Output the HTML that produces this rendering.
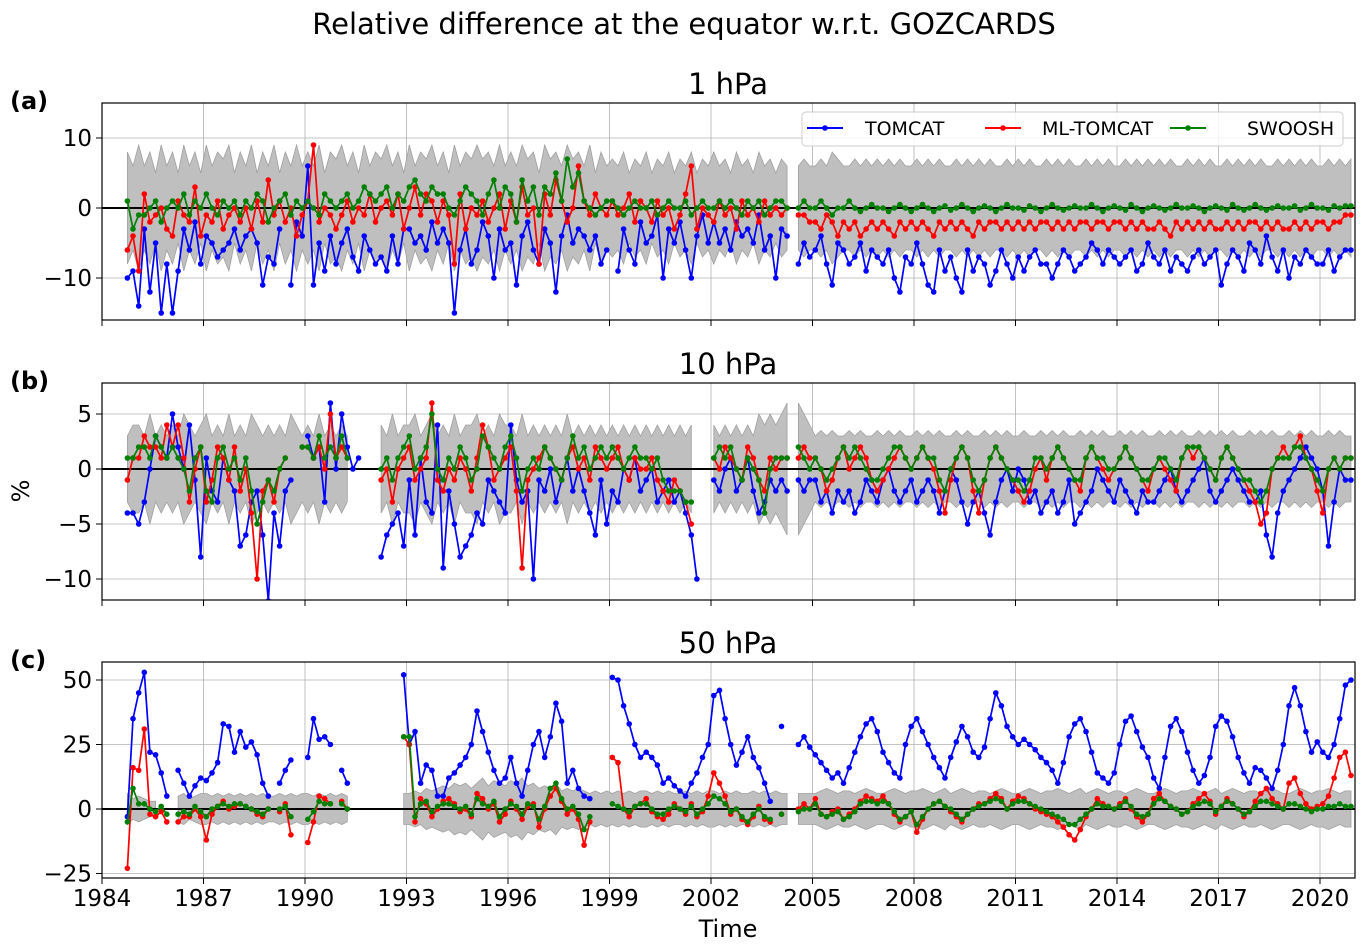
<!DOCTYPE html>
<html><head><meta charset="utf-8"><style>
html,body{margin:0;padding:0;background:#fff;}
svg{display:block;font-family:"DejaVu Sans","Liberation Sans",sans-serif;}
</style></head><body>
<svg id="chart" width="1368" height="949" viewBox="0 0 1368 949">
<text x="684" y="34" font-size="29" text-anchor="middle">Relative difference at the equator w.r.t. GOZCARDS</text>
</svg>
<script>
// time axis: t = 1984.75 + i/6
const t0 = 1984.75;
const xTicks = [1984,1987,1990,1993,1996,1999,2002,2005,2008,2011,2014,2017,2020];

const a_tomcat = [-10,-9, -14,-3,-12,-5,-15,-8, -15,-9,-3,-6,-2,-8, -4,-5,-7,-6,-5,-3, -6,-4,-3,-5,-11,-7, -8,-3,null,-11,-2,-4, 6,-11,-5,-9,-4,-8, -5,-3,-7,-9,-4,-6, -8,-7,-9,-4,-8,-3, -3,-5,-4,-6,-2,-5, -3,-5,-15,-6,-3,-8, -6,-2,-4,-10,-3,-6, -5,-11,-4,-2,-6,-8, -3,-5,-12,-4,-1,-5, -3,-4,-6,-4,-8,-6, null,-9,-3,-6,-8,-2, -5,-4,-1,-10,-3,-5, -2,-6,-10,-4,-1,-5, -2,-5,-3,-6,-2,-4, -3,-5,-1,-6,-4,-10, -3,-4,null,-8,-5,-7, -6,-4,-8,-11,-5,-6, -8,-7,-5,-9,-6,-7, -8,-6,-10,-12,-7,-8, -5,-8,-11,-12,-6,-9, -7,-10,-12,-6,-9,-7, -8,-11,-9,-6,-8,-10, -7,-9,-7,-6,-8,-8, -10,-8,-6,-7,-9,-8, -7,-5,-6,-8,-6,-7, -8,-7,-6,-9,-8,-5, -7,-8,-6,-9,-7,-8, -9,-7,-6,-8,-7,-6, -11,-8,-6,-7,-9,-5, -6,-8,-4,-7,-9,-6, -10,-7,-8,-6,-7,-8, -8,-6,-9,-7,-6,-6];
const a_ml = [-6,-4, -9,2,-2,-1,0,-3, -4,1,-1,-2,3,-4, -1,-2,1,-3,-1,0, -2,0,-3,1,-2,4, -1,1,-2,0,-4,-1, 1,9,-2,0,-1,-3, -1,1,-2,0,-1,2, -2,0,1,-1,2,-3, 0,3,-1,2,1,-2, 1,-1,-8,2,-3,0, -1,1,-2,0,2,-3, 1,-2,3,-1,0,-8, 2,-1,4,1,-2,0, 6,1,-1,2,0,-1, 1,-1,0,2,-2,1, 0,-2,1,-1,0,-3, -1,2,6,-3,0,-1, -2,1,-1,0,-3,1, -1,0,-2,1,-1,0, -1,0,null,-1,-1,-2, -2,-3,-1,-2,-4,-2, -3,-2,-4,-3,-2,-3, -2,-3,-4,-2,-3,-2, -3,-2,-3,-4,-2,-3, -2,-3,-2,-3,-4,-2, -3,-2,-2,-3,-2,-3, -2,-3,-2,-3,-2,-2, -3,-2,-3,-2,-3,-2, -2,-3,-2,-2,-3,-2, -2,-3,-2,-3,-2,-3, -3,-2,-3,-4,-2,-3, -2,-3,-2,-3,-2,-3, -3,-2,-3,-2,-3,-2, -2,-3,-2,-3,-2,-3, -3,-2,-3,-2,-3,-2, -2,-3,-2,-2,-1,-1];
const a_swoosh = [1,-3, -1,-1,0,1,-2,0, 1,0,2,-1,1,0, 2,0,-1,1,0,1, -1,1,0,2,1,-2, 0,1,2,-1,1,0, 1,0,-1,2,1,0, 1,2,0,1,3,2, 1,2,3,0,2,1, 3,4,2,1,3,2, 2,0,-1,1,3,2, 1,-1,2,4,0,3, 2,-2,4,1,3,-1, 3,2,5,1,7,3, 5,1,0,-1,0,1, 1,0,-1,0,1,0, 0,1,-1,0,1,0, 0,1,-1,0,1,0, 0,1,0,1,0,-1, 1,0,1,-1,0,1, 1,0,null,0,1,0, 0,1,0,-1,0,0, 1,0,-0.5,0,0.5,0, 0,-0.5,0,0.5,0,-0.5, 0,0.5,0,-0.5,0,0.3, -0.3,0,0.5,0,-0.5,0, 0.3,0,-0.5,0,0.5,0, 0,-0.3,0.3,0,-0.5,0, 0.5,0,-0.3,0,0.3,0, 0,0.5,0,-0.5,0,0.3, 0,-0.3,0.5,0,-0.5,0, 0.3,0,-0.3,0,0.5,0, 0,0.3,0,-0.5,0,0.3, 0,-0.3,0.5,0,-0.3,0, 0.5,0,-0.3,0,0.3,0, 0,0.3,-0.3,0,0.5,0, 0,-0.3,0.3,0,0.3,0.3];
const a_band = [8,6, 9,6,8,5,9,6, 8,5,9,6,8,5, 9,6,8,7,9,5, 8,6,9,5,8,6, 9,5,8,6,9,6, 8,6,9,5,8,7, 9,6,8,5,9,6, 8,7,9,6,8,5, 9,6,8,7,9,6, 8,5,9,6,8,7, 9,7,8,6,9,6, 8,6,9,7,8,5, 9,7,8,6,9,7, 8,6,9,5,8,6, 7,6,8,5,7,6, 8,5,7,6,8,5, 7,6,8,5,7,6, 8,6,7,5,8,6, 7,5,8,6,7,5, 7,6,null,6,7,6, 6,7,6,8,7,6, 6,7,6,7,6,7, 6,7,6,7,6,6, 7,6,7,6,7,6, 6,7,6,7,6,7, 6,7,6,6,7,6, 7,6,7,6,6,7, 6,7,6,7,6,6, 7,6,7,6,7,6, 6,7,6,7,6,7, 6,7,6,7,6,6, 7,6,7,6,7,6, 6,7,6,7,6,7, 6,7,6,6,7,6, 7,6,7,6,7,6, 6,7,6,7,6,7];

const b_tomcat = [-4,-4, -5,-3,0,3,2,1, 5,2,0,4,-1,-8, 1,-2,-3,1,-1,-2, -7,-6,-3,-2,-6,-12, -4,-7,-2,-1,null,null, 3,1,2,-3,6,0, 5,2,0,1,null,null, null,-8,-6,-5,-4,-7, -1,-6,1,-3,-4,4, -9,-2,-5,-8,-7,-6, -4,-5,-1,-2,-3,-4, 4,-1,-3,-2,-10,-1, -2,0,-3,-1,1,-2, 0,-2,-4,-6,-1,-5, -2,-3,0,-1,1,-2, -1,0,-3,-2,-1,-3, -2,-4,-6,-10,null,null, -1,-2,0,1,-2,-1, 1,-2,-4,-3,-1,-2, -1,-2,null,-1,-2,-1, -1,-3,-2,-4,-2,-3, -2,-4,-3,-1,-2,-3, -1,0,-2,-3,-2,-1, -3,-2,-1,-2,-4,-2, 0,-1,-3,-5,-3,-2, -4,-6,-3,-1,0,-2, 0,-1,-3,-2,-4,-3, -2,-4,-3,-1,-5,-4, -3,-2,0,-1,-2,-3, -1,-2,-3,-4,-2,-3, -3,-2,-1,0,-2,-3, -2,-1,0,1,-2,-3, -2,-1,0,-1,-2,-3, -3,-2,-6,-8,-4,-2, -1,0,1,2,1,0, -2,-7,-3,0,-1,-1];
const b_ml = [-1,1, 1,3,2,2,1,4, 2,4,1,-3,0,2, -3,-1,2,1,-1,2, -2,0,-4,-10,-2,-1, -3,0,1,null,null,2, 2,1,2,0,5,1, 2,1,null,null,null,null, null,-1,0,-3,0,1, 2,-1,0,1,6,-1, -2,0,-1,1,0,-2, 1,4,2,-1,0,1, 2,-2,-9,-1,0,1, 2,1,0,-1,1,2, 0,1,-1,2,1,0, 1,2,0,-1,1,0, 0,1,-1,-2,-3,-1, -2,-3,-5,null,null,null, 1,0,2,1,0,-1, 2,1,-1,-2,1,0, 1,1,null,1,2,1, 1,0,-2,-1,1,2, 0,1,2,1,-1,-2, -1,0,1,2,1,0, 1,2,1,0,-2,-4, -1,1,2,1,-2,-4, -1,1,2,1,0,-1, -2,-3,-2,0,1,-1, 1,2,1,0,-1,-2, 1,2,1,0,-1,0, 1,2,1,0,-1,-2, 0,1,0,-1,-2,1, 2,1,2,1,0,-1, 1,2,1,0,-1,-2, -3,-5,-4,0,1,2, 1,2,3,1,0,-2, -4,0,1,0,1,1];
const b_swoosh = [1,1, 2,2,1,3,2,1, 2,1,0,-2,1,2, -2,-3,1,2,0,1, -1,1,-2,-5,-3,-1, -2,0,1,null,null,2, 2,1,3,1,2,1, 3,1,null,null,null,null, null,0,1,-1,1,2, 3,0,1,2,5,0, -1,1,0,2,1,-1, 0,3,2,1,0,2, 3,1,-2,0,1,0, 2,1,0,-1,1,3, 1,2,0,1,2,1, 2,1,0,1,2,1, 1,0,1,-1,-2,-2, -2,-3,-3,null,null,null, 1,2,1,2,0,-1, 1,0,-1,-4,0,1, 1,1,null,2,1,0, 1,0,-1,0,1,2, 1,2,1,0,-1,-1, 0,1,2,2,1,0, 1,2,1,1,-1,-2, 0,1,2,1,-1,-2, -1,1,2,1,0,-1, -1,-2,-1,1,1,0, 1,2,1,0,-1,-1, 1,2,1,1,0,0, 1,2,1,0,-1,-1, 0,1,1,0,-1,1, 2,2,2,1,0,-1, 1,2,1,0,-1,-1, -2,-3,-2,0,1,1, 1,2,2,1,0,-1, -2,0,1,0,1,1];
const b_band = [3,4, 4,3,5,3,4,3, 4,3,5,4,3,4, 5,3,4,3,5,3, 4,3,5,4,3,4, 3,4,3,5,4,3, 4,3,5,3,4,3, 4,3,null,null,null,null, null,4,3,5,3,4, 4,5,3,4,5,3, 4,3,5,3,4,4, 5,3,4,3,5,4, 4,3,5,3,4,3, 4,3,4,3,5,3, 4,3,4,3,4,3, 4,3,4,3,4,3, 4,3,4,3,4,3, 4,3,4,null,null,null, 4,3,4,3,4,3, 4,3,5,4,5,4, 5,6,null,6,5,4, 3,3.5,3,3.5,3,3, 3.5,3,3.5,3,3,3.5, 3,3.5,3,3.5,3,3, 3.5,3,3.5,3,3.5,3, 3,3.5,3,3.5,3,3, 3.5,3,3.5,3,3.5,3, 3,3.5,3,3,3.5,3, 3.5,3,3.5,3,3,3.5, 3,3.5,3,3.5,3,3, 3.5,3,3.5,3,3.5,3, 3,3.5,3,3.5,3,3.5, 3,3,3.5,3,3.5,3, 3.5,3,3.5,3,3,3.5, 3,3.5,3,3.5,3,3, 3.5,3,3.5,3,3.5,3, 3,3.5,3,3.5,3,3];

const c_tomcat = [-3,35, 45,53,22,21,14,5, null,15,10,5,9,12, 11,14,18,33,32,22, 30,24,26,21,10,5, null,10,15,19,null,null, 20,35,27,28,25,null, 15,10,null,null,null,null, null,null,null,null,null,52, 25,30,10,17,15,5, 5,12,14,17,20,25, 38,30,22,15,10,12, 20,10,5,15,25,30, 20,28,41,34,10,15, 8,5,4,null,null,null, 51,50,40,33,25,20, 22,20,17,10,12,9, 7,5,10,14,20,25, 44,46,35,25,17,22, 28,20,16,10,3,null, 32,null,null,25,28,24, 21,18,15,12,14,10, 16,22,28,33,35,30, 22,18,14,12,25,32, 35,30,25,20,16,12, 20,26,32,28,22,20, 24,35,45,40,32,28, 25,27,25,23,20,18, 15,10,18,28,33,35, 30,22,14,12,10,14, 25,34,36,30,24,20, 12,8,20,32,35,30, 22,15,10,13,20,32, 36,34,28,20,14,10, 16,15,12,8,15,25, 40,47,40,30,22,26, 22,20,25,35,48,50];
const c_ml = [-23,16, 15,31,-2,-3,-1,-5, null,-5,-3,-3,0,-3, -12,-2,1,3,0,1, 2,1,0,-2,-3,0, null,-1,2,-10,null,null, -13,-5,5,4,2,null, 3,0,null,null,null,null, null,null,null,null,null,28, 25,-5,4,2,-3,0, 3,4,2,-1,0,-3, 6,4,0,2,-5,-2, 3,0,-4,1,2,-7, 0,5,8,3,-2,0, -4,-14,-5,null,null,null, 20,18,0,-3,1,2, 4,-1,-3,-4,-2,2, 0,-2,2,-3,-1,5, 14,10,5,-2,0,-4, -6,-3,1,-4,-5,null, -2,null,null,0,2,0, 4,-2,-3,-1,0,-4, -2,0,3,5,4,3, 5,2,-2,-5,-3,-1, -9,-4,0,2,3,1, -1,-3,-5,-2,0,2, 2,4,6,4,0,3, 5,4,2,0,-1,-2, -3,-5,-7,-10,-12,-8, -3,0,4,2,1,0, 2,4,0,-3,-5,-2, 4,6,3,1,0,-2, -1,2,4,6,3,-2, 1,4,2,0,-3,-1, 3,6,8,4,2,0, 10,12,6,2,0,1, 2,5,12,20,22,13];
const c_swoosh = [-5,8, 2,2,0,-1,1,-2, null,-2,-1,-2,1,-1, -3,0,1,2,1,2, 2,1,0,-1,-2,0, null,0,1,-3,null,null, -4,-1,3,2,2,null, 2,0,null,null,null,null, null,null,null,null,null,28, 28,-3,2,3,-1,1, 2,2,1,0,1,-2, 4,2,1,3,-3,0, 2,1,-2,2,1,-4, 1,8,10,4,0,1, -2,-8,-3,null,null,null, 2,1,0,-1,1,2, 2,0,-2,-2,0,1, 0,-1,1,-2,0,2, 5,4,2,-1,0,-3, -5,-2,0,-3,-4,null, -2,null,null,-1,0,0, 2,-2,-3,-2,-1,-4, -3,-1,2,3,3,2, 3,2,-1,-4,-3,-1, -6,-3,0,2,3,1, 0,-2,-4,-2,0,1, 2,3,4,3,0,2, 3,3,2,1,0,-1, -2,-3,-4,-6,-6,-4, -2,0,2,1,1,0, 1,3,1,-2,-3,-2, 2,4,3,1,0,-2, -1,1,2,3,2,-1, 1,3,2,0,-2,-1, 1,3,3,2,1,0, 2,2,1,0,-1,0, 0,1,1,2,1,1];
const c_band = [6,4, 5,4,3,3,null,null, null,5,6,4,5,6, 6,5,6,5,6,5, 6,5,6,5,6,5, 5,6,5,6,5,6, 6,5,6,5,6,5, 6,5,null,null,null,null, null,null,null,null,null,6, 6,7,6,8,7,8, 9,8,10,9,10,8, 10,12,9,11,10,9, 11,10,12,9,10,8, 9,8,10,7,8,7, 8,7,6,7,6,7, 6,7,6,7,6,7, 7,6,7,6,7,6, 6,7,6,7,6,7, 7,6,7,6,7,6, 6,7,6,7,6,7, 6,6,null,6,6,6, 6,7,8,7,6,7, 7,6,7,8,7,6, 6,7,8,7,6,7, 7,8,7,6,7,8, 6,7,8,7,6,7, 7,6,7,8,7,6, 6,7,8,7,6,7, 7,8,7,6,7,8, 6,7,8,7,6,7, 7,6,7,8,7,6, 6,7,8,7,6,7, 7,8,7,6,7,8, 6,7,8,7,6,7, 7,6,7,8,7,6, 6,7,8,7,6,7, 7,8,7,6,7,7];

const yTicksA = [-10,0,10], yTicksB = [-10,-5,0,5], yTicksC = [-25,0,25,50];

const NS = "http://www.w3.org/2000/svg";
const svg = document.getElementById('chart');
const X0 = 102, X1 = 1355;
function xs(t){ return X0 + (t - 1984) * (1320 - 102) / 36; }
function tOf(i){ return t0 + i / 6; }
function mk(tag, attrs, parent){
  const e = document.createElementNS(NS, tag);
  for (const k in attrs) e.setAttribute(k, attrs[k]);
  (parent || svg).appendChild(e);
  return e;
}

const panels = [
  {id:'a', top:103, bot:320, zeroY:208, k:7, ticks:yTicksA, title:'1 hPa', s:[a_tomcat,a_ml,a_swoosh], band:a_band},
  {id:'b', top:383, bot:600, zeroY:469, k:11, ticks:yTicksB, title:'10 hPa', s:[b_tomcat,b_ml,b_swoosh], band:b_band},
  {id:'c', top:662, bot:878, zeroY:809, k:2.58, ticks:yTicksC, title:'50 hPa', s:[c_tomcat,c_ml,c_swoosh], band:c_band}
];
const colors = ['#0000ff','#ff0000','#008000'];
const sNames = ['tomcat','ml-tomcat','swoosh'];

panels.forEach(function(p){
  const ys = function(v){ return p.zeroY - p.k * v; };
  const g = mk('g', {});
  
  
  const cp = mk('clipPath', {id:'clip' + p.id}, g);
  mk('rect', {x:X0, y:p.top, width:X1 - X0, height:p.bot - p.top}, cp);

  xTicks.forEach(function(yr){
    const gl = mk('line', {x1:xs(yr), x2:xs(yr), y1:p.top, y2:p.bot, stroke:'#b0b0b0', 'stroke-width':0.8}, g);
    
    
    mk('line', {x1:xs(yr), x2:xs(yr), y1:p.bot, y2:p.bot + 6, stroke:'#000', 'stroke-width':1}, g);
  });
  p.ticks.forEach(function(v){
    const gl = mk('line', {x1:X0, x2:X1, y1:ys(v), y2:ys(v), stroke:'#b0b0b0', 'stroke-width':0.8}, g);
    
    
    mk('line', {x1:X0 - 6, x2:X0, y1:ys(v), y2:ys(v), stroke:'#000', 'stroke-width':1}, g);
    const tl = mk('text', {x:X0 - 10, y:ys(v) + 8, 'font-size':23, 'text-anchor':'end'}, g);
    tl.textContent = v < 0 ? '\u2212' + Math.abs(v) : String(v);
    
    
  });

  const inner = mk('g', {'clip-path':'url(#clip' + p.id + ')'}, g);
  let seg = [];
  const segs = [];
  p.band.forEach(function(w, i){
    if (w === null) { if (seg.length) segs.push(seg); seg = []; }
    else seg.push(i);
  });
  if (seg.length) segs.push(seg);
  segs.forEach(function(sg){
    let d = '';
    sg.forEach(function(i, j){ d += (j ? 'L' : 'M') + xs(tOf(i)).toFixed(1) + ',' + ys(p.band[i]).toFixed(1); });
    for (let j = sg.length - 1; j >= 0; j--) d += 'L' + xs(tOf(sg[j])).toFixed(1) + ',' + ys(-p.band[sg[j]]).toFixed(1);
    d += 'Z';
    const b = mk('path', {d:d, fill:'#bfbfbf', stroke:'#a0a0a0', 'stroke-width':0.8}, inner);
    
    
  });
  const z = mk('line', {x1:X0, x2:X1, y1:ys(0), y2:ys(0), stroke:'#000', 'stroke-width':2}, inner);
  
  

  p.s.forEach(function(arr, si){
    const sg = mk('g', {}, inner);
    
    
    let d = '', pen = false;
    arr.forEach(function(v, i){
      if (v === null) { pen = false; return; }
      d += (pen ? 'L' : 'M') + xs(tOf(i)).toFixed(1) + ',' + ys(v).toFixed(1);
      pen = true;
    });
    const ln = mk('path', {d:d, fill:'none', stroke:colors[si], 'stroke-width':1.7}, sg);
    
    
    arr.forEach(function(v, i){
      if (v === null) return;
      const c = mk('circle', {cx:xs(tOf(i)).toFixed(1), cy:ys(v).toFixed(1), r:2.8, fill:colors[si]}, sg);
      
      
    });
  });

  const fr = mk('rect', {x:X0, y:p.top, width:X1 - X0, height:p.bot - p.top, fill:'none', stroke:'#000', 'stroke-width':1.2}, g);
  
  
  const tt = mk('text', {x:728, y:p.top - 9, 'font-size':29, 'text-anchor':'middle'}, g);
  tt.textContent = p.title;
  
  
  const lb = mk('text', {x:10, y:p.top + 6, 'font-size':24, 'font-weight':'bold'}, g);
  lb.textContent = '(' + p.id + ')';
  
  
});

xTicks.forEach(function(yr){
  const tl = mk('text', {x:xs(yr), y:906, 'font-size':23, 'text-anchor':'middle'});
  tl.textContent = String(yr);
  
  
});
const xt = mk('text', {x:728, y:937, 'font-size':24, 'text-anchor':'middle'});
xt.textContent = 'Time';


const yt = mk('text', {x:0, y:0, 'font-size':24, 'text-anchor':'middle', transform:'translate(29,491) rotate(-90)'});
yt.textContent = '%';



const lg = mk('g', {});


mk('rect', {x:802, y:112, width:541, height:34, rx:4, fill:'#fff', 'fill-opacity':0.85, stroke:'#cccccc'}, lg);
const legX = [807, 985, 1170], legTX = [865, 1042, 1247], legN = ['TOMCAT','ML-TOMCAT','SWOOSH'];
legN.forEach(function(n, i){
  const e = mk('g', {}, lg);
  
  
  mk('line', {x1:legX[i], x2:legX[i] + 36, y1:128, y2:128, stroke:colors[i], 'stroke-width':2}, e);
  mk('circle', {cx:legX[i] + 18, cy:128, r:2.8, fill:colors[i]}, e);
  const tx = mk('text', {x:legTX[i], y:135, 'font-size':19}, e);
  tx.textContent = n;
});
</script>
</body></html>
